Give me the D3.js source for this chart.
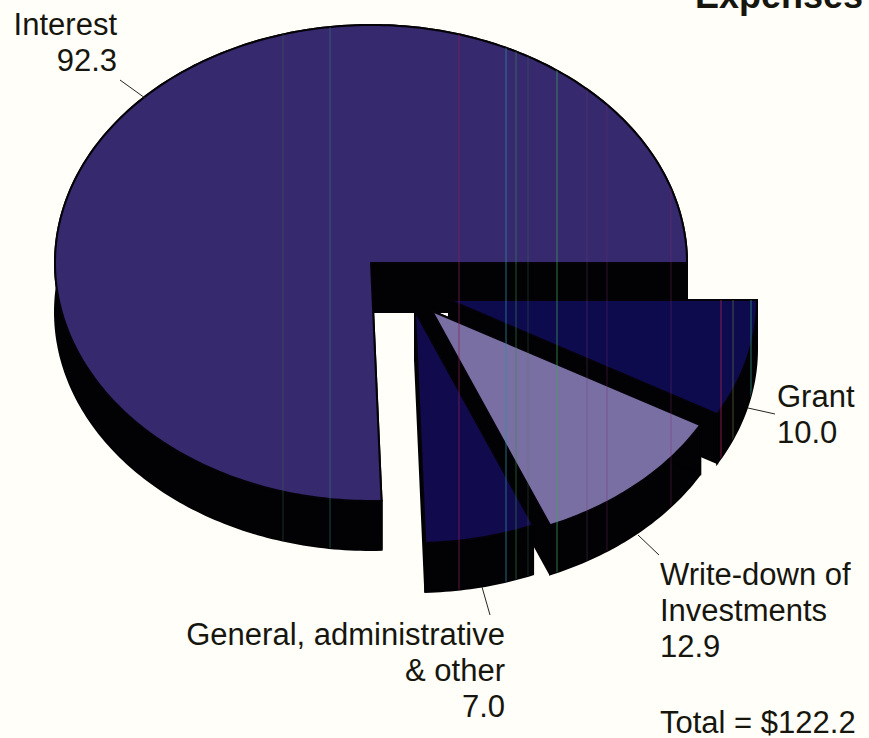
<!DOCTYPE html>
<html>
<head>
<meta charset="utf-8">
<style>
  html, body { margin: 0; padding: 0; background: #fffef8; }
  svg { display: block; }
  text { font-family: "Liberation Sans", Arial, sans-serif; font-size: 31px; fill: #16160f; }
</style>
</head>
<body>
<svg id="chart" width="869" height="738"></svg>
<script src="https://cdn.jsdelivr.net/npm/d3@7/dist/d3.min.js"></script>
<script>
// Expenses, in clockwise order starting from three o'clock
const categories = ["Grant", "Write-down of Investments", "General, administrative & other", "Interest"];
const values = [10.0, 12.9, 7.0, 92.3];
const valueLabels = ["10.0", "12.9", "7.0", "92.3"];
const totalLabel = "Total = $122.2";
const title = "Expenses";

// Slice geometry on the page: exploded centre and elliptical radii
const centres = [[449, 300], [432, 311], [415, 311], [371, 263]];
const radii = [[308, 232], [308, 232], [308, 232], [316, 238]];
const faceColours = ["#0e0a4e", "#7a6fa3", "#110a4c", "#36296d"];
const depth = 49;

// Label blocks: anchor x, first baseline y, text-anchor, lines
const labelBlocks = [
  { x: 117, y: 35, anchor: "end", lines: ["Interest", "92.3"] },
  { x: 777, y: 407, anchor: "start", lines: ["Grant", "10.0"] },
  { x: 660, y: 585, anchor: "start", lines: ["Write-down of", "Investments", "12.9"] },
  { x: 505, y: 645, anchor: "end", lines: ["General, administrative", "& other", "7.0"] }
];
const lineStep = 35.8;
const leaders = [
  [[120, 80], [145, 98]],
  [[748, 408], [775, 414]],
  [[638, 535], [659, 555]],
  [[482, 587], [490, 615]]
];

// Fine vertical colour hairlines running through the printed pie
const hairlines = [
  [283, "#3f6f4a", 0.45], [330, "#2f8f7f", 0.5], [459, "#8a1f55", 0.7],
  [506, "#2f8fa0", 0.75], [516, "#2f8f4a", 0.6], [528, "#3f7f4a", 0.35],
  [557, "#3fa05a", 0.75], [587, "#6f3f6f", 0.4], [607, "#6f2f6f", 0.4],
  [671, "#7f2f6f", 0.4], [721, "#a02050", 0.8], [733, "#6f7f4a", 0.6],
  [751, "#2f8f7f", 0.8]
];

const svg = d3.select("#chart");
const pie = d3.pie().sort(null).startAngle(Math.PI / 2).endAngle(Math.PI * 2.5);
const slices = pie(values);
const toPath = d3.line();

// Maps unit-circle coordinates to page coordinates for one slice
const scalesFor = i => ({
  x: d3.scaleLinear().domain([0, 1]).range([centres[i][0], centres[i][0] + radii[i][0]]),
  y: d3.scaleLinear().domain([0, 1]).range([centres[i][1], centres[i][1] + radii[i][1]])
});

const rimPoints = (slice, i, dy) => {
  const s = scalesFor(i);
  const steps = Math.max(8, Math.ceil((slice.endAngle - slice.startAngle) * 60));
  return d3.range(steps + 1).map(k => {
    const a = slice.startAngle + (slice.endAngle - slice.startAngle) * k / steps;
    return [s.x(Math.sin(a)), s.y(-Math.cos(a)) + dy];
  });
};
const apex = (i, dy) => {
  const s = scalesFor(i);
  return [s.x(0), s.y(0) + dy];
};
const facePath = (slice, i) => toPath([apex(i, 0), ...rimPoints(slice, i, 0)]) + "Z";
const wallPaths = (slice, i) => {
  const top = rimPoints(slice, i, 0);
  const bottom = rimPoints(slice, i, depth);
  return [
    toPath([...top, ...bottom.slice().reverse()]) + "Z",
    toPath([apex(i, 0), top[0], bottom[0], apex(i, depth)]) + "Z",
    toPath([apex(i, 0), top[top.length - 1], bottom[bottom.length - 1], apex(i, depth)]) + "Z"
  ];
};

// Closes the gap between the tips of the two neighbouring small wedges
const hubPath = toPath([apex(2, 0), apex(1, 0), apex(1, depth)]) + "Z";

// Everything the hairlines may fall on
const clip = svg.append("defs").append("clipPath").attr("id", "pie-area");
slices.forEach((slice, i) => {
  clip.append("path").attr("d", facePath(slice, i));
  wallPaths(slice, i).forEach(d => clip.append("path").attr("d", d));
});

// Black side walls go down first, so every top face sits above them
const walls = svg.append("g");
slices.forEach((slice, i) => {
  walls.selectAll(null).data(wallPaths(slice, i)).join("path")
    .attr("d", d => d)
    .attr("fill", "#020104")
    .attr("stroke", "#020104")
    .attr("stroke-width", 2);
});
walls.append("path").attr("d", hubPath).attr("fill", "#020104");

svg.append("g").selectAll("path").data(slices).join("path")
  .attr("d", facePath)
  .attr("fill", (d, i) => faceColours[i])
  .attr("stroke", "#050308")
  .attr("stroke-width", 2)
  .attr("stroke-linejoin", "round");

svg.append("g").attr("clip-path", "url(#pie-area)")
  .selectAll("line").data(hairlines).join("line")
  .attr("x1", d => d[0]).attr("x2", d => d[0])
  .attr("y1", 0).attr("y2", 738)
  .attr("stroke", d => d[1])
  .attr("stroke-opacity", d => d[2])
  .attr("stroke-width", 1);

svg.append("g").selectAll("line").data(leaders).join("line")
  .attr("x1", d => d[0][0]).attr("y1", d => d[0][1])
  .attr("x2", d => d[1][0]).attr("y2", d => d[1][1])
  .attr("stroke", "#26261e")
  .attr("stroke-width", 1);

const labels = svg.append("g");
labelBlocks.forEach(block => {
  block.lines.forEach((line, k) => {
    labels.append("text")
      .attr("x", block.x)
      .attr("y", block.y + k * lineStep)
      .attr("text-anchor", block.anchor)
      .text(line);
  });
});

labels.append("text").attr("x", 660).attr("y", 733).text(totalLabel);
labels.append("text")
  .attr("x", 863).attr("y", 8)
  .attr("text-anchor", "end")
  .style("font-weight", "bold")
  .style("font-size", "36px")
  .text(title);
</script>
</body>
</html>
